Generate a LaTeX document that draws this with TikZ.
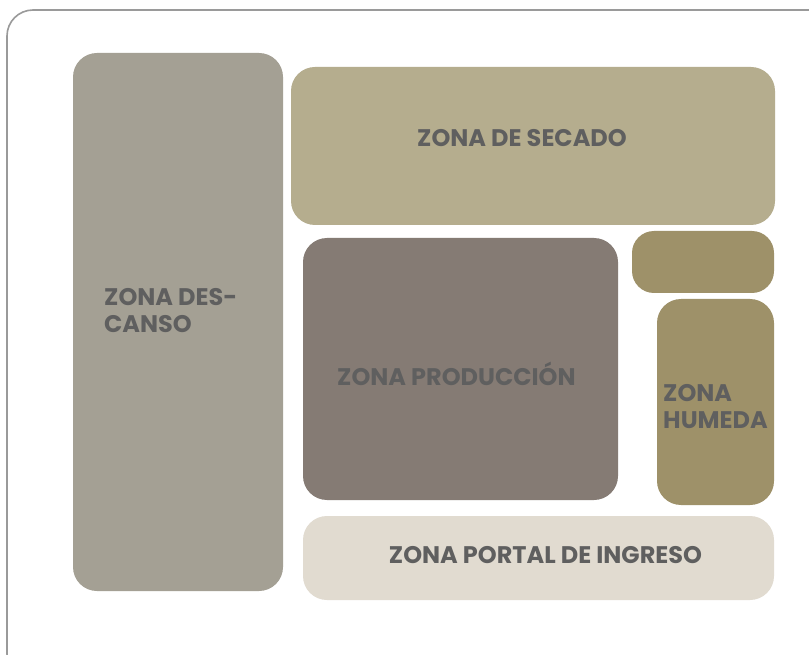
\documentclass[tikz,border=0pt]{standalone}
\usepackage{fontspec}
\setmainfont{Poppins}
\definecolor{descanso}{HTML}{A4A094}
\definecolor{secado}{HTML}{B5AD8E}
\definecolor{produccion}{HTML}{857B74}
\definecolor{humeda}{HTML}{9E9169}
\definecolor{portal}{HTML}{E1DBD0}
\definecolor{txt}{HTML}{5F5F5F}
\definecolor{frame}{HTML}{9A9A9A}
\tikzset{
  zone/.style={rounded corners=24pt, draw=none, inner sep=0pt},
  lbl/.style={text=txt, font=\bfseries\fontsize{24}{27}\selectfont, inner sep=0pt, align=left}
}
\begin{document}
\begin{tikzpicture}[x=1pt,y=-1pt]
\useasboundingbox (0,0) rectangle (809,655);
\fill[white] (0,0) rectangle (809,655);
\draw[frame, line width=1.6pt, rounded corners=26pt] (7,10) rectangle (835,680);
% zones
\fill[descanso, zone] (73,53) rectangle (283,591);
\fill[secado, zone] (291,67) rectangle (775,225);
\fill[produccion, zone] (303,238) rectangle (618,500);
\fill[humeda, zone, rounded corners=22pt] (632,231) rectangle (774,293);
\fill[humeda, zone] (657,299) rectangle (774,505);
\fill[portal, zone] (303,516) rectangle (774,600);
% labels
\node[lbl, anchor=base] (tsecado) at (522,147) {ZONA DE SECADO};
\node[lbl, anchor=base west] (tdescanso) at (104,332) {ZONA DES-\\CANSO};
\node[lbl, anchor=base west] (tprod) at (337,385) {ZONA PRODUCCIÓN};
\node[lbl, anchor=base west] (thumeda) at (663,428) {ZONA\\HUMEDA};
\node[lbl, anchor=base] (tportal) at (545.5,563) {ZONA PORTAL DE INGRESO};
\end{tikzpicture}
\end{document}
